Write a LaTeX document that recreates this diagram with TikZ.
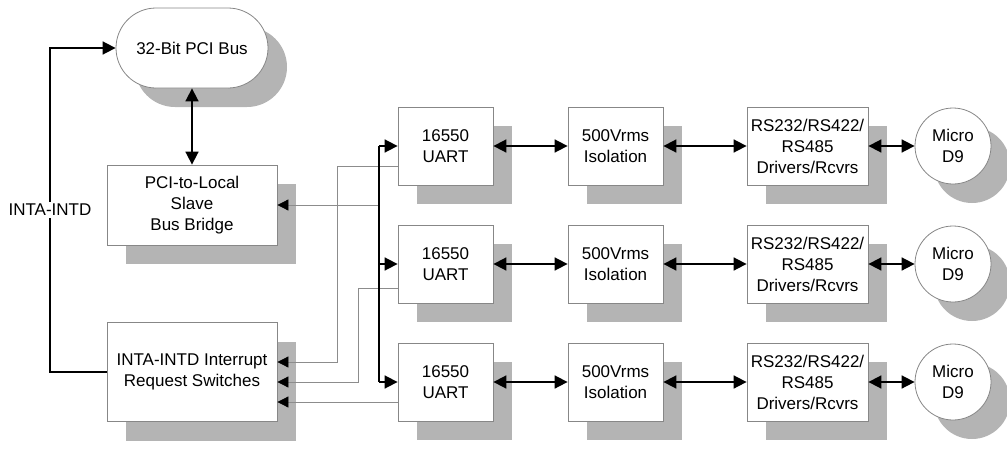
\documentclass[tikz,border=0pt]{standalone}
\usepackage{fontspec}
\setmainfont{Liberation Sans}
\usetikzlibrary{arrows.meta,shadows,calc}
\definecolor{shadowgray}{RGB}{180,180,180}
\definecolor{edgegray}{RGB}{135,135,135}
\definecolor{wiregray}{RGB}{140,140,140}
\tikzset{
  shadowed/.style={drop shadow={shadow xshift=19pt,shadow yshift=-19pt,fill=shadowgray,opacity=1}},
  blk/.style={draw=edgegray,line width=0.8pt,fill=white,align=center,inner sep=0pt,shadowed,
    font=\fontsize{17}{21}\selectfont},
  bus/.style={line width=1.7pt,black},
  one/.style={bus,-{Triangle[length=13pt,width=13pt]}},
  dbl/.style={bus,{Triangle[length=13pt,width=13pt]}-{Triangle[length=13pt,width=13pt]}},
  wire/.style={wiregray,line width=0.8pt,-{Triangle[length=11pt,width=11pt,color=black]}},
  lbltext/.style={fill=white,inner sep=2pt,font=\fontsize{17}{21}\selectfont}
}
\begin{document}
\begin{tikzpicture}[x=1pt,y=-1pt]
\useasboundingbox (0,0) rectangle (1007,458);
% left column
\node[blk,rounded corners=40pt,minimum width=152pt,minimum height=80pt] (pci) at (192,48) {32-Bit PCI Bus};
\node[blk,minimum width=170pt,minimum height=80pt] (bridge) at (192,205) {PCI-to-Local\\Slave\\Bus Bridge};
\node[blk,minimum width=170pt,minimum height=99pt] (irq) at (192,372) {INTA-INTD Interrupt\\Request Switches};
% rows
\foreach \r/\y in {1/146,2/264,3/382}{
  \node[blk,minimum width=95pt,minimum height=78pt] (u\r) at (445.5,\y) {16550\\UART};
  \node[blk,minimum width=95pt,minimum height=78pt] (i\r) at (615.5,\y) {500Vrms\\Isolation};
  \node[blk,minimum width=121pt,minimum height=78pt] (s\r) at (807.5,\y) {RS232/RS422/\\RS485\\Drivers/Rcvrs};
  \node[blk,circle,minimum size=76pt] (d\r) at (953,\y) {Micro\\D9};
  \draw[dbl] (u\r.east) -- (i\r.west);
  \draw[dbl] (i\r.east) -- (s\r.west);
  \draw[dbl] (s\r.east) -- (d\r.west);
}
% PCI bus to bridge
\draw[dbl] (pci.south) -- (bridge.north);
% interrupt line
\coordinate (lblpt) at (50,210);
\draw[one] (irq.west) -| (lblpt) |- (pci.west);
\node[lbltext] (lbl) at (lblpt) {INTA-INTD};
% thin wires
\coordinate (b1) at (379,146);
\coordinate (b3) at (379,382);
\draw[wire] (b1 |- bridge.east) -- (bridge.east);
\draw[wire] ([yshift=-20pt]u1.west) -| ([xshift=60pt,yshift=10pt]irq.east) -- ([yshift=10pt]irq.east);
\draw[wire] ([yshift=-24pt]u2.west) -| ([xshift=81pt,yshift=-10pt]irq.east) -- ([yshift=-10pt]irq.east);
\draw[wire] ([yshift=-20pt]u3.west) -- ([yshift=-30pt]irq.east);
% local bus
\draw[bus] (b1) -- (b3);
\foreach \r in {1,2,3}{
  \draw[one] (b1 |- u\r.west) -- (u\r.west);
}
\end{tikzpicture}
\end{document}
